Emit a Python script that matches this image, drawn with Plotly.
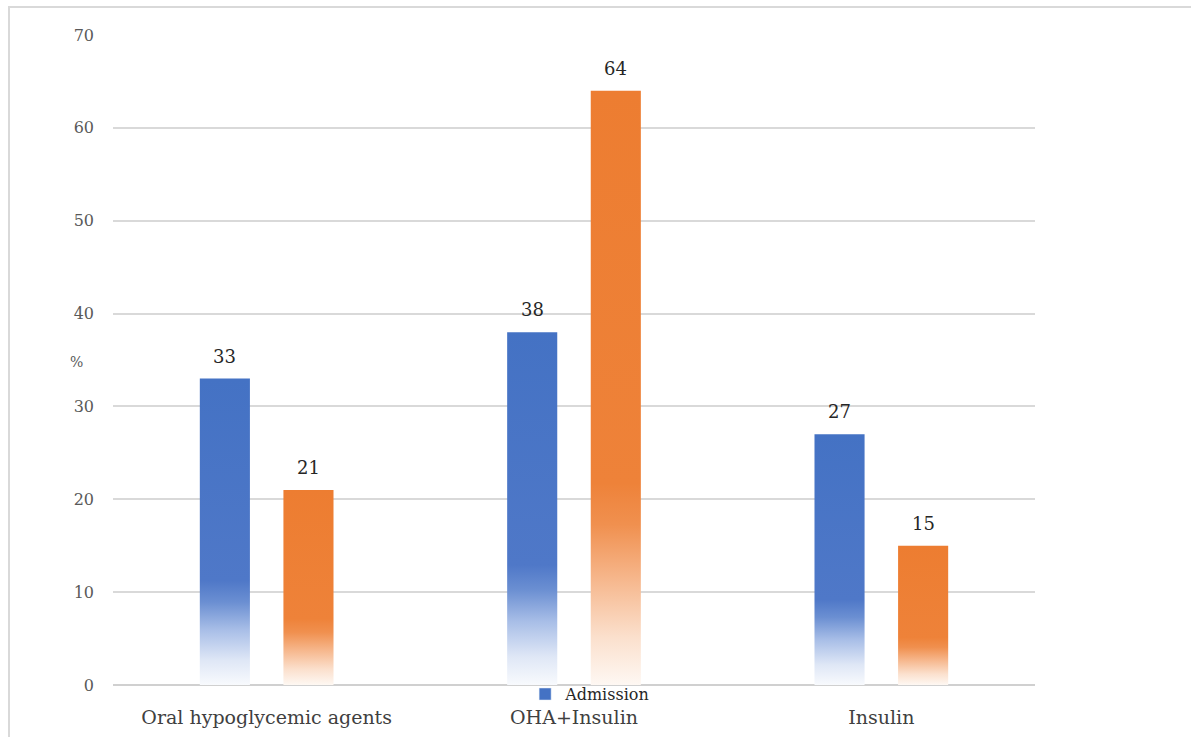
import plotly.graph_objects as go

# Treatment regimen shares (%), admission vs discharge
categories = ["Oral hypoglycemic agents", "OHA+Insulin", "Insulin"]
admission = [33, 38, 27]
discharge = [21, 64, 15]
y_ticks = [0, 10, 20, 30, 40, 50, 60, 70]

SERIF = "DejaVu Serif"
BLUE = "#4472C4"
ORANGE = "#ED7D31"
BAR_W = 0.163      # bar width in category units
OFFSET = 0.136     # distance of each bar from the category centre

blue_scale = [[0.0, "#f8fafd"], [0.08, "#dfe7f6"], [0.18, "#a8bee7"],
              [0.27, "#6b8fd2"], [0.34, "#4f78c8"], [1.0, BLUE]]
orange_scale = [[0.0, "#fef8f3"], [0.08, "#fbe0cd"], [0.18, "#f6b68b"],
                [0.27, "#f0904f"], [0.34, "#ee8239"], [1.0, ORANGE]]

fig = go.Figure()


def add_series(values, name, color, scale, shift):
    for i, v in enumerate(values):
        xc = i + shift
        x0, x1 = xc - BAR_W / 2, xc + BAR_W / 2
        fig.add_trace(go.Scatter(
            x=[x0, x1, x1, x0, x0],
            y=[0, 0, v, v, 0],
            mode="lines",
            line=dict(width=0, color=color),
            fill="toself",
            fillcolor=color,
            fillgradient=dict(type="vertical", colorscale=scale),
            name=name,
            legendgroup=name,
            showlegend=False,
            hoverinfo="skip",
        ))
        fig.add_annotation(
            x=xc, y=v, text=str(v), showarrow=False,
            yanchor="bottom", yshift=10,
            font=dict(family=SERIF, size=18, color="#262626"),
        )


add_series(admission, "Admission", BLUE, blue_scale, -OFFSET)
add_series(discharge, "Discharge", ORANGE, orange_scale, OFFSET)

# legend key for the admission series (square swatch)
fig.add_trace(go.Bar(
    x=[None], y=[None], name="Admission", legendgroup="Admission",
    marker=dict(color=BLUE), showlegend=True,
))

# "%" axis caption, written horizontally beside the axis
fig.add_annotation(
    xref="paper", yref="y", x=-0.049, y=34.8, text="%", showarrow=False,
    font=dict(family=SERIF, size=14, color="#595959"),
)

# light outer frame around the chart
fig.add_shape(
    type="rect", xref="paper", yref="paper",
    x0=-0.1128, x1=1.175, y0=-0.09, y1=1.043,
    line=dict(color="#d9d9d9", width=2), fillcolor="rgba(0,0,0,0)",
    layer="below",
)

fig.update_layout(
    width=1191, height=737,
    margin=dict(l=113, r=156, t=35, b=52, autoexpand=False),
    paper_bgcolor="white", plot_bgcolor="white",
    showlegend=True,
    legend=dict(
        x=0.447, y=-0.014, xanchor="left", yanchor="middle",
        orientation="h", bgcolor="rgba(0,0,0,0)",
        font=dict(family=SERIF, size=16, color="#262626"),
        itemwidth=30, tracegroupgap=0,
    ),
    xaxis=dict(
        range=[-0.5, 2.5], tickvals=[0, 1, 2], ticktext=categories,
        showgrid=False, zeroline=False, showline=False, ticks="",
        ticklabelstandoff=19, automargin=False,
        tickfont=dict(family=SERIF, size=19, color="#404040"),
    ),
    yaxis=dict(
        range=[0, 70], tickvals=y_ticks, showgrid=True,
        gridcolor="#d9d9d9", gridwidth=1.5,
        zeroline=True, zerolinecolor="#d0d0d0", zerolinewidth=1.5,
        showline=False, ticks="", ticklabelstandoff=18, automargin=False,
        tickfont=dict(family=SERIF, size=16, color="#595959"),
    ),
)

fig.write_html("out.html")
